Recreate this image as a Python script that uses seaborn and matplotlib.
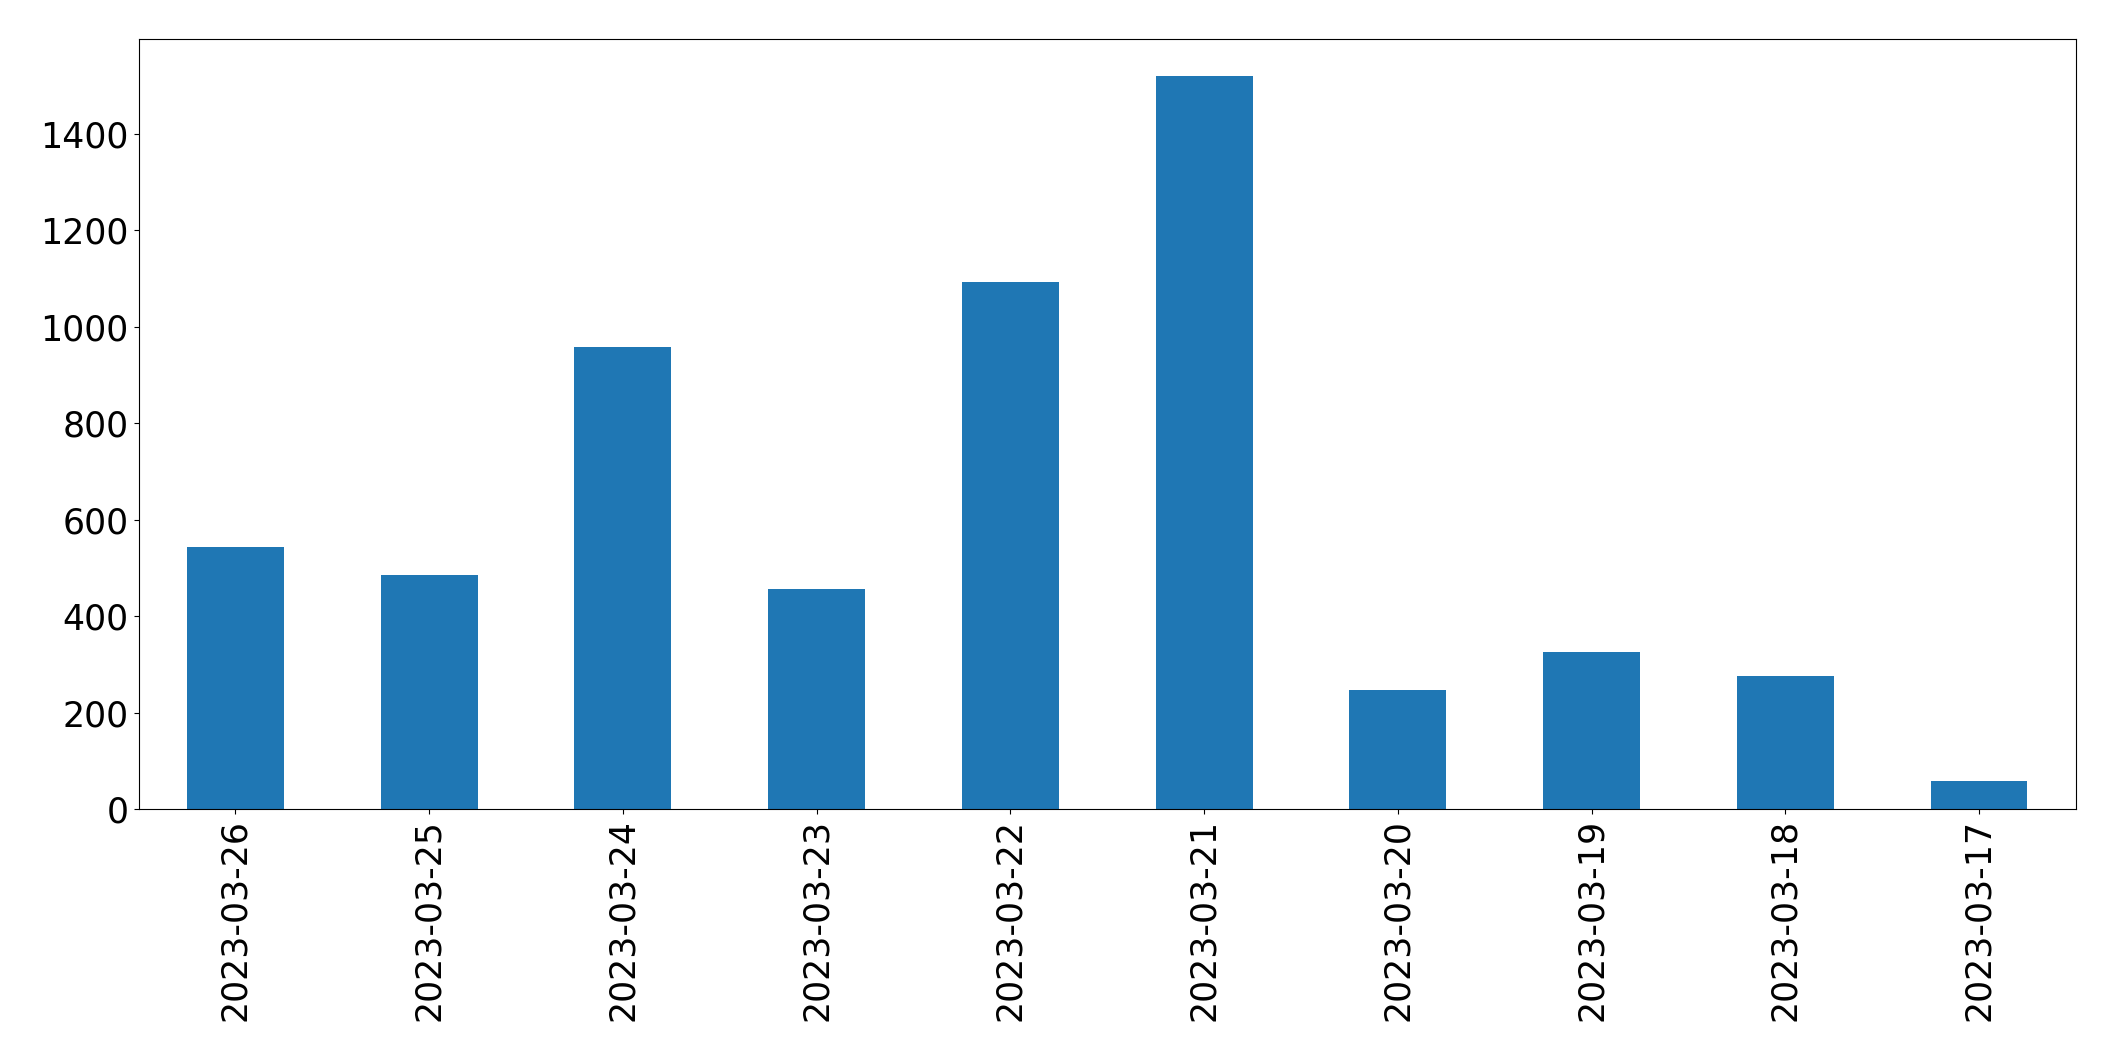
import matplotlib
matplotlib.use('Agg')
import matplotlib.pyplot as plt
import seaborn as sns
import pandas as pd

# ── Datos ─────────────────────────────────────────────────
fechas = ['2023-03-26', '2023-03-25', '2023-03-24', '2023-03-23', '2023-03-22',
          '2023-03-21', '2023-03-20', '2023-03-19', '2023-03-18', '2023-03-17']
conteos = [544, 486, 958, 457, 1092, 1520, 247, 326, 276, 58]

df = pd.DataFrame({'fecha': fechas, 'conteo': conteos})

# ── Gráfico ───────────────────────────────────────────────
fig, ax = plt.subplots(figsize=(21.15, 10.61), dpi=100)
fig.subplots_adjust(left=0.0655, right=0.9815, top=0.963, bottom=0.2375)

sns.barplot(data=df, x='fecha', y='conteo', order=fechas,
            color='#1f77b4', saturation=1, width=0.5, ax=ax)

ax.set_xlim(-0.5, len(fechas) - 0.5)
ax.set_ylim(0, max(conteos) * 1.05)
ax.set_xlabel('')
ax.set_ylabel('')
ax.tick_params(axis='both', labelsize=25)
ax.tick_params(axis='x', rotation=90)

plt.savefig('out.png', dpi=100)
plt.close()
